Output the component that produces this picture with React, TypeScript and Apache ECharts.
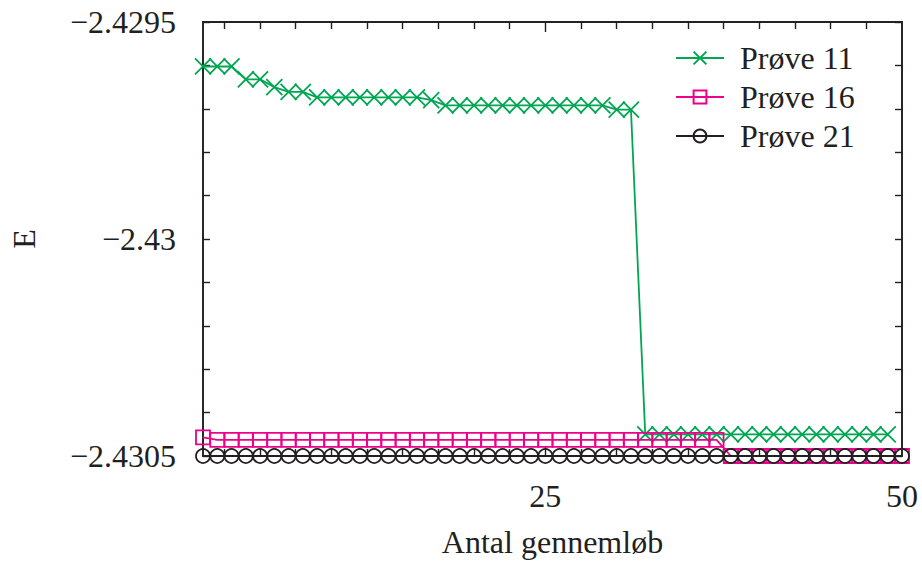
import React, { useEffect, useRef } from "react";
import * as echarts from "echarts";

// Antal gennemløb (run index)
const runs = [
  1, 2, 3, 4, 5, 6, 7, 8, 9, 10, 11, 12, 13, 14, 15, 16, 17, 18, 19, 20, 21, 22, 23, 24, 25,
  26, 27, 28, 29, 30, 31, 32, 33, 34, 35, 36, 37, 38, 39, 40, 41, 42, 43, 44, 45, 46, 47, 48, 49, 50,
];

const prove11 = [
  -2.4296025, -2.4296025, -2.4296025, -2.429632, -2.429632, -2.42965, -2.429661, -2.429661,
  -2.4296735, -2.4296735, -2.4296735, -2.4296735, -2.4296735, -2.4296735, -2.4296735, -2.4296735,
  -2.42968, -2.429692, -2.429692, -2.429692, -2.429692, -2.429692, -2.429692, -2.429692,
  -2.429692, -2.429692, -2.429692, -2.429692, -2.429692, -2.429702, -2.429702,
  -2.43045, -2.43045, -2.43045, -2.43045, -2.43045, -2.43045, -2.43045, -2.43045, -2.43045,
  -2.43045, -2.43045, -2.43045, -2.43045, -2.43045, -2.43045, -2.43045, -2.43045, -2.43045,
];

const prove16 = [
  -2.430457, -2.430463, -2.430463, -2.430463, -2.430463, -2.430463, -2.430463, -2.430463,
  -2.430463, -2.430463, -2.430463, -2.430463, -2.430463, -2.430463, -2.430463, -2.430463,
  -2.430463, -2.430463, -2.430463, -2.430463, -2.430463, -2.430463, -2.430463, -2.430463,
  -2.430463, -2.430463, -2.430463, -2.430463, -2.430463, -2.430463, -2.430463, -2.430463,
  -2.430463, -2.430463, -2.430463, -2.430463, -2.430463,
  -2.4305, -2.4305, -2.4305, -2.4305, -2.4305, -2.4305, -2.4305, -2.4305, -2.4305, -2.4305,
  -2.4305, -2.4305, -2.4305,
];

const prove21 = [
  -2.4305, -2.4305, -2.4305, -2.4305, -2.4305, -2.4305, -2.4305, -2.4305, -2.4305, -2.4305,
  -2.4305, -2.4305, -2.4305, -2.4305, -2.4305, -2.4305, -2.4305, -2.4305, -2.4305, -2.4305,
  -2.4305, -2.4305, -2.4305, -2.4305, -2.4305, -2.4305, -2.4305, -2.4305, -2.4305, -2.4305,
  -2.4305, -2.4305, -2.4305, -2.4305, -2.4305, -2.4305, -2.4305, -2.4305, -2.4305, -2.4305,
  -2.4305, -2.4305, -2.4305, -2.4305, -2.4305, -2.4305, -2.4305, -2.4305, -2.4305, -2.4305,
];

const seriesNames = ["Prøve 11", "Prøve 16", "Prøve 21"];
const xLabelValues = [25, 50];
const xMinorTicks = [
  2.5, 5, 7.5, 10, 12.5, 15, 17.5, 20, 22.5, 27.5, 30, 32.5, 35, 37.5, 40, 42.5, 45, 47.5,
];
const xMajorTicks = [25];
const yLabels: Record<string, string> = {
  "-24295": "\u22122.4295",
  "-24300": "\u22122.43",
  "-24305": "\u22122.4305",
};

const FONT = "'Liberation Serif', 'Times New Roman', serif";
const FS = 32;
const TXT = "#231f20";
const GREEN = "#00a651";
const MAGENTA = "#ec008c";
const BLACK = "#231f20";

export default function App() {
  const ref = useRef<HTMLDivElement>(null);
  useEffect(() => {
    if (!ref.current) return;
    const chart = echarts.init(ref.current, undefined, { renderer: "svg" });
    const axisLine = { show: true, lineStyle: { color: "#231f20", width: 1.6 } };
    const tickLine = { color: "#231f20", width: 1.4 };
    const baseX = {
      type: "value" as const,
      min: 1,
      max: 50,
      axisLine,
      splitLine: { show: false },
    };
    const option: any = {
      animation: false,
      backgroundColor: "#ffffff",
      grid: {
        left: 197,
        right: 20,
        top: 22,
        bottom: 109,
        show: true,
        borderColor: "#231f20",
        borderWidth: 1.6,
      },
      legend: {
        orient: "vertical",
        left: 675,
        top: 42,
        padding: 0,
        itemWidth: 48,
        itemHeight: 16,
        itemGap: 7,
        data: seriesNames,
        textStyle: { fontFamily: FONT, fontSize: FS, color: TXT, padding: [0, 0, 0, 11] },
      },
      xAxis: [
        {
          ...baseX,
          position: "bottom",
          name: "Antal gennemløb",
          nameLocation: "middle",
          nameGap: 70,
          nameTextStyle: { fontFamily: FONT, fontSize: FS, color: TXT },
          axisTick: { show: true, inside: true, length: 7, customValues: xMinorTicks, lineStyle: tickLine },
          axisLabel: { show: true, customValues: xLabelValues, margin: 24, fontFamily: FONT, fontSize: FS, color: TXT },
        },
        {
          ...baseX,
          position: "top",
          axisTick: { show: true, inside: true, length: 7, customValues: xMinorTicks, lineStyle: tickLine },
          axisLabel: { show: false },
        },
        {
          ...baseX,
          position: "top",
          axisTick: { show: true, inside: true, length: 10, customValues: xMajorTicks, lineStyle: tickLine },
          axisLabel: { show: false },
        },
        {
          ...baseX,
          position: "bottom",
          axisTick: { show: true, inside: true, length: 10, customValues: xMajorTicks, lineStyle: tickLine },
          axisLabel: { show: false },
        },
      ],
      yAxis: [
        {
          type: "value",
          position: "left",
          min: -2.4305,
          max: -2.4295,
          interval: 0.0001,
          name: "E",
          nameLocation: "middle",
          nameRotate: 90,
          nameGap: 163,
          nameTextStyle: { fontFamily: FONT, fontSize: FS, color: TXT },
          axisLine,
          splitLine: { show: false },
          axisTick: { show: true, inside: true, length: 7, lineStyle: tickLine },
          axisLabel: {
            show: true,
            margin: 27,
            fontFamily: FONT,
            fontSize: FS,
            color: TXT,
            formatter: (v: number) => yLabels[String(Math.round(v * 10000))] ?? "",
          },
        },
        {
          type: "value",
          position: "right",
          min: -2.4305,
          max: -2.4295,
          interval: 0.0001,
          axisLine,
          splitLine: { show: false },
          axisTick: { show: true, inside: true, length: 7, lineStyle: tickLine },
          axisLabel: { show: false },
        },
      ],
      series: [
        {
          name: seriesNames[0],
          type: "line",
          xAxisIndex: 0,
          yAxisIndex: 0,
          data: runs.map((x, i) => [x, prove11[i]]),
          symbol: "path://M0,0L10,10M10,0L0,10",
          symbolSize: 16,
          showSymbol: true,
          showAllSymbol: true,
          lineStyle: { color: GREEN, width: 1.8 },
          itemStyle: { color: GREEN, borderColor: GREEN, borderWidth: 1.8 },
          z: 3,
        },
        {
          name: seriesNames[1],
          type: "line",
          xAxisIndex: 0,
          yAxisIndex: 0,
          data: runs.map((x, i) => [x, prove16[i]]),
          symbol: "rect",
          symbolSize: 14,
          showSymbol: true,
          showAllSymbol: true,
          lineStyle: { color: MAGENTA, width: 1.8 },
          itemStyle: { color: "rgba(0,0,0,0)", borderColor: MAGENTA, borderWidth: 1.8 },
          z: 4,
        },
        {
          name: seriesNames[2],
          type: "line",
          xAxisIndex: 0,
          yAxisIndex: 0,
          data: runs.map((x, i) => [x, prove21[i]]),
          symbol: "circle",
          symbolSize: 14,
          showSymbol: true,
          showAllSymbol: true,
          lineStyle: { color: BLACK, width: 1.8 },
          itemStyle: { color: "rgba(0,0,0,0)", borderColor: BLACK, borderWidth: 1.8 },
          z: 5,
        },
      ],
    };
    chart.setOption(option);
    return () => chart.dispose();
  }, []);
  return (
    <div
      ref={ref}
      style={{ position: "fixed", left: 0, top: 0, width: 922, height: 565, background: "#fff" }}
    />
  );
}
